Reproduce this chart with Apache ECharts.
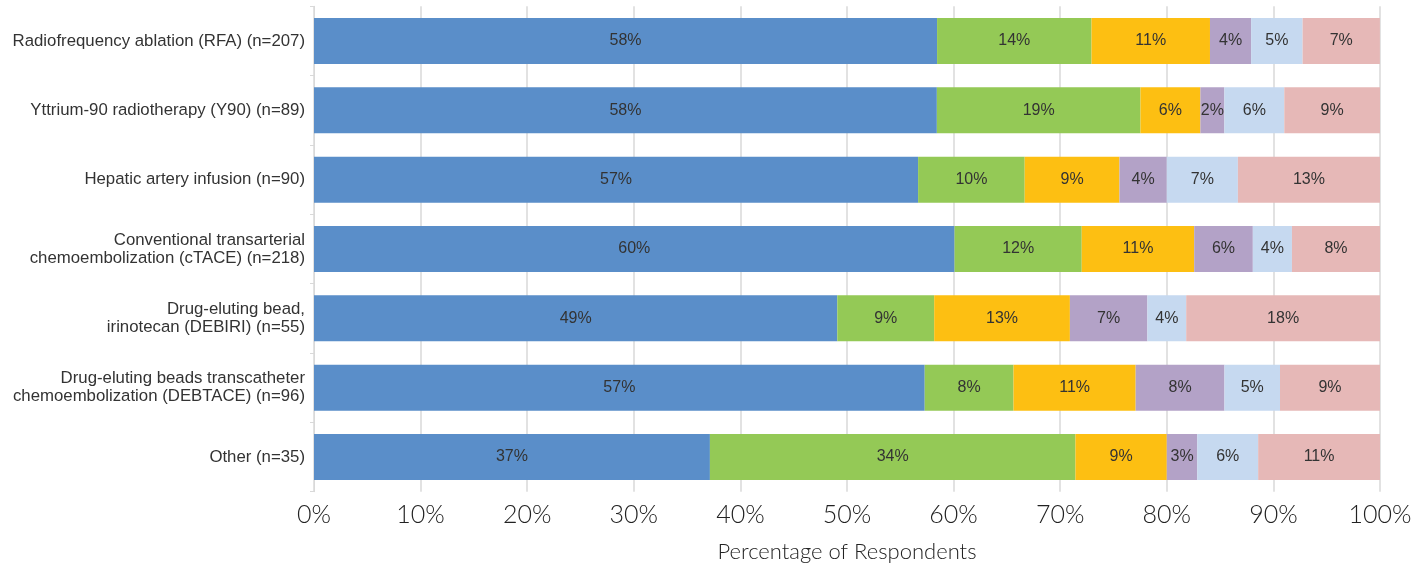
<!DOCTYPE html>
<html>
<head>
<meta charset="utf-8">
<script src="https://cdn.jsdelivr.net/npm/echarts@6/dist/echarts.min.js"></script>
<style>html,body{margin:0;padding:0;background:#fff;}#c{width:1411px;height:567px;}</style>
</head>
<body>
<div id="c"></div>
<script>
var categories = [
  'Radiofrequency ablation (RFA) (n=207)',
  'Yttrium-90 radiotherapy (Y90) (n=89)',
  'Hepatic artery infusion (n=90)',
  'Conventional transarterial\nchemoembolization (cTACE) (n=218)',
  'Drug-eluting bead,\nirinotecan (DEBIRI) (n=55)',
  'Drug-eluting beads transcatheter\nchemoembolization (DEBTACE) (n=96)',
  'Other (n=35)'
];
var seriesNames = ['Series 1', 'Series 2', 'Series 3', 'Series 4', 'Series 5', 'Series 6'];
var s1 = [58.45, 58.43, 56.67, 60.09, 49.09, 57.29, 37.14];
var s2 = [14.49, 19.10, 10.00, 11.93, 9.09, 8.33, 34.29];
var s3 = [11.11, 5.62, 8.89, 10.55, 12.73, 11.46, 8.57];
var s4 = [3.86, 2.25, 4.44, 5.50, 7.27, 8.33, 2.86];
var s5 = [4.83, 5.62, 6.67, 3.67, 3.64, 5.21, 5.71];
var s6 = [7.25, 8.99, 13.33, 8.26, 18.18, 9.38, 11.43];
var xTicks = [0, 10, 20, 30, 40, 50, 60, 70, 80, 90, 100];
var colors = ['#5a8ec9', '#94c956', '#fdbf12', '#b3a2c7', '#c6d9f0', '#e6b8b7'];
var allData = [s1, s2, s3, s4, s5, s6];

var chart = echarts.init(document.getElementById('c'));
chart.setOption({
  animation: false,
  grid: { left: 314, right: 31, top: 6.3, bottom: 75.3, containLabel: false, outerBoundsMode: 'none' },
  xAxis: {
    type: 'value', min: xTicks[0], max: xTicks[xTicks.length - 1], interval: 10,
    name: 'Percentage of Respondents', nameLocation: 'middle', nameGap: 49,
    nameTextStyle: { fontFamily: 'Lato', fontWeight: 300, fontSize: 22, color: '#222' },
    axisLine: { show: false }, axisTick: { show: false },
    axisLabel: { formatter: '{value}%', fontFamily: 'Lato', fontWeight: 300, fontSize: 25, color: '#222', margin: 11 },
    splitLine: { show: true, lineStyle: { color: '#d9d9d9', width: 1.5 } }
  },
  yAxis: {
    type: 'category', data: categories, inverse: true,
    axisLine: { show: true, lineStyle: { color: '#d9d9d9', width: 1 } },
    axisTick: { show: true, length: 4, lineStyle: { color: '#d9d9d9' } },
    axisLabel: { fontFamily: 'Liberation Sans', fontSize: 16.8, color: '#333', lineHeight: 18, margin: 9 }
  },
  series: allData.map(function (d, i) {
    return {
      name: seriesNames[i], type: 'bar', stack: 'total', data: d, barWidth: 46,
      itemStyle: { color: colors[i] },
      label: {
        show: true, position: 'inside', fontFamily: 'Liberation Sans', fontSize: 16, color: '#333',
        formatter: function (p) { return Math.round(p.value) + '%'; }
      }
    };
  })
});
</script>
</body>
</html>
